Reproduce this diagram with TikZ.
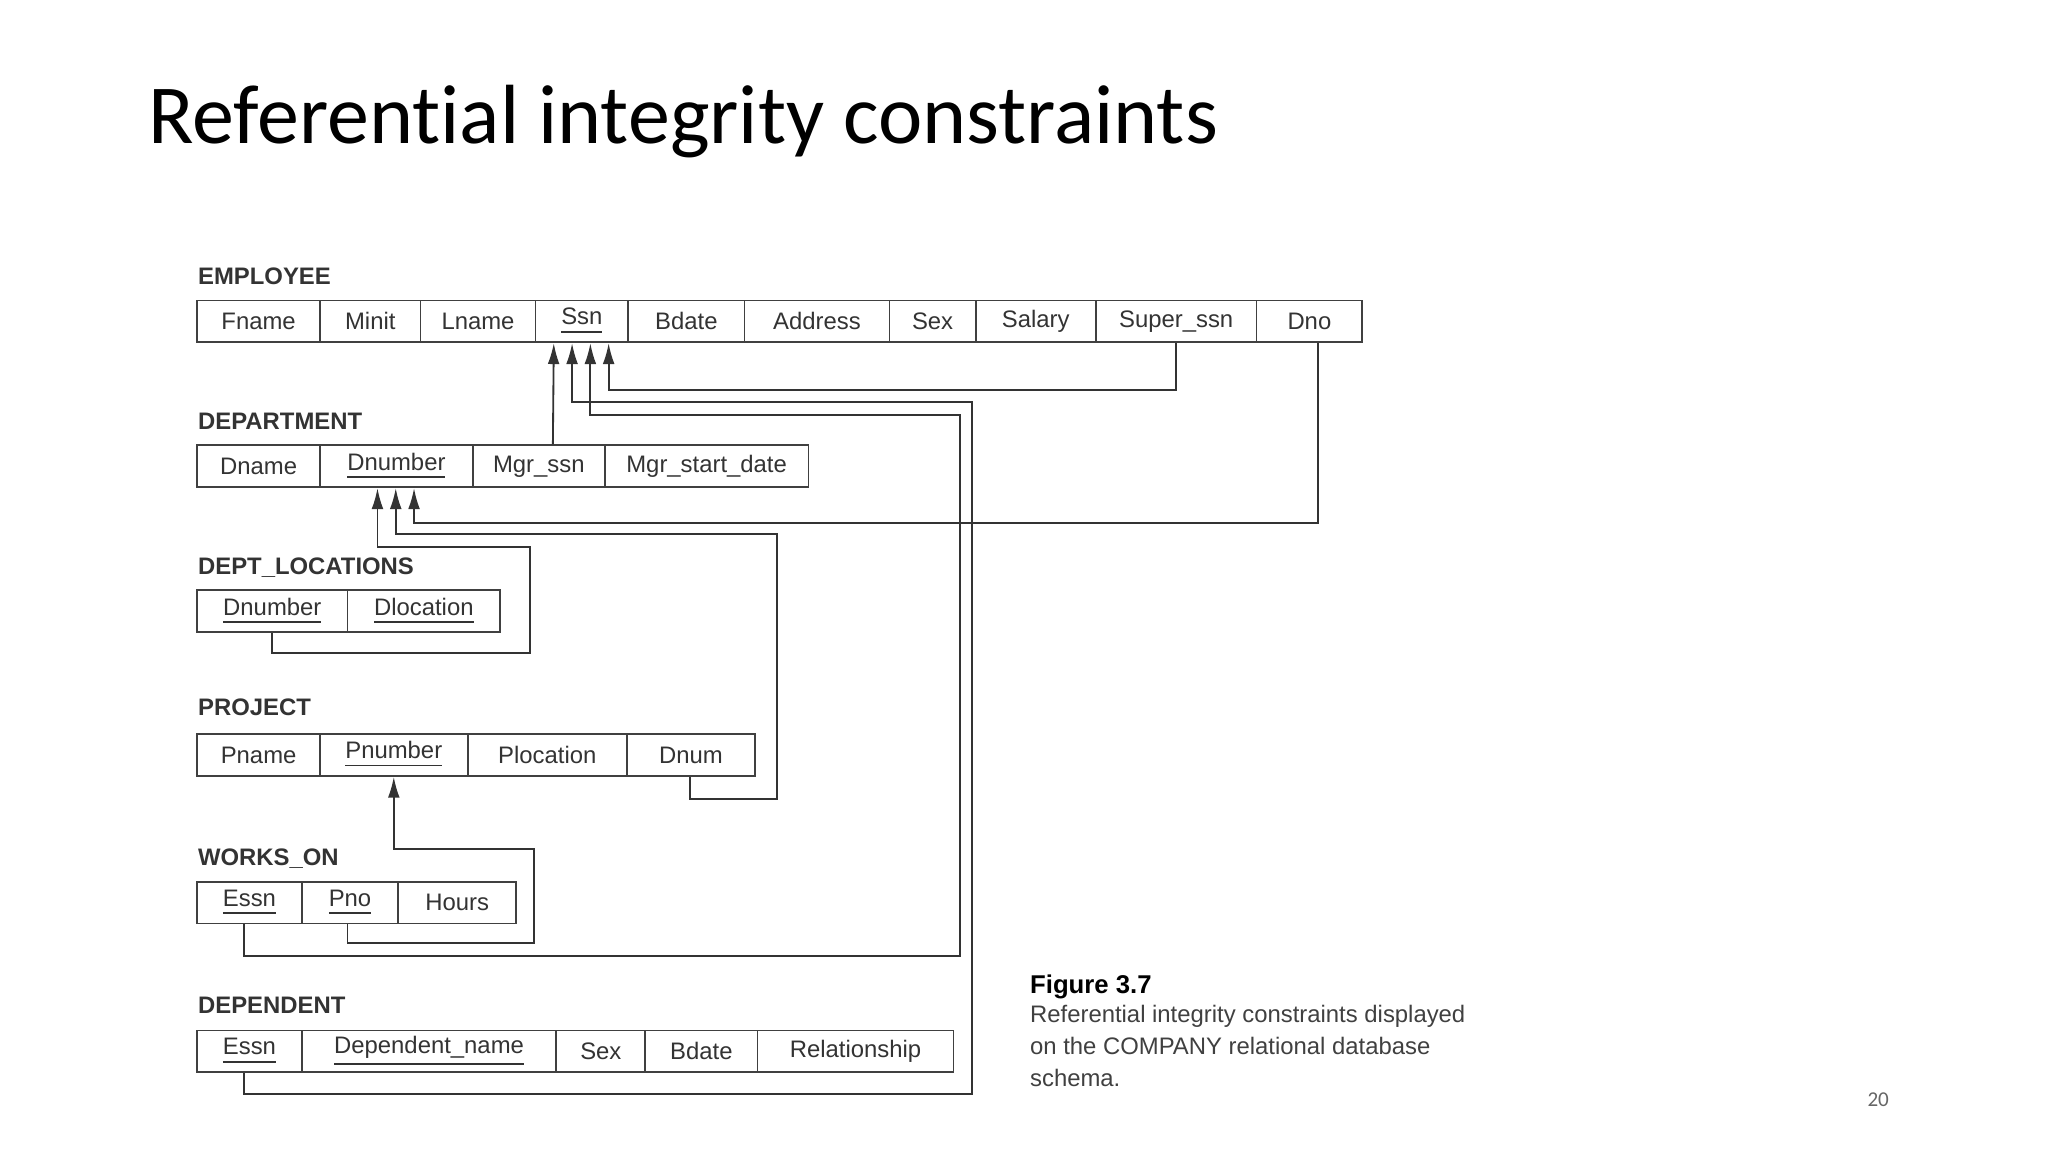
\documentclass[tikz,border=0pt]{standalone}
\usepackage{fontspec}
\setmainfont{Liberation Sans}
\newfontfamily\titlefont[Ligatures=NoCommon]{Carlito}
\usetikzlibrary{positioning, arrows.meta, calc}

\begin{document}
\begin{tikzpicture}[x=0.1mm, y=-0.1mm,
    cell/.style={rectangle, draw=black!75, line width=0.4pt, minimum height=3.2mm, inner sep=0pt, font=\fontsize{5.2}{6}\selectfont, text=black!80},
    relname/.style={anchor=base west, inner sep=0pt, font=\fontsize{5.2}{6}\selectfont\bfseries, text=black!80},
    fk/.style={draw=black!80, line width=0.4pt, -{Latex[length=1.6mm, width=0.9mm]}},
]
\useasboundingbox (0,0) rectangle (1568,882);

% Title
\node[anchor=base west, inner sep=0pt, font=\titlefont\fontsize{18.3}{22}\selectfont] (title) at (113,110) {Referential integrity constraints};

% Relation names
\node[relname] (lblEmp) at (151,218) {EMPLOYEE};
\node[relname] (lblDept) at (151,329) {DEPARTMENT};
\node[relname] (lblLoc) at (151,440) {DEPT\_LOCATIONS};
\node[relname] (lblProj) at (151,548) {PROJECT};
\node[relname] (lblWorks) at (151,663) {WORKS\_ON};
\node[relname] (lblDep) at (151,776) {DEPENDENT};

% Cells
\foreach \n/\a/\b/\t in {Fname/151/245/Fname, Minit/245/322/Minit, Lname/322/410/Lname,
    Ssn/410/481/\underline{Ssn}, Bdate/481/570/Bdate, Address/570/681/Address, Sex/681/747/Sex,
    Salary/747/839/Salary, Super/839/962/Super\_ssn, Dno/962/1043/Dno}
  \node[cell, minimum width={(\b-\a)*0.1mm}] (emp-\n) at ({(\a+\b)/2},246) {\t};
\foreach \n/\a/\b/\t in {Dname/151/245/Dname, Dnumber/245/362/\underline{Dnumber},
    Mgr/362/463/Mgr\_ssn, Start/463/619/Mgr\_start\_date}
  \node[cell, minimum width={(\b-\a)*0.1mm}] (dept-\n) at ({(\a+\b)/2},357) {\t};
\foreach \n/\a/\b/\t in {Dnumber/151/266/\underline{Dnumber}, Dlocation/266/383/\underline{Dlocation}}
  \node[cell, minimum width={(\b-\a)*0.1mm}] (loc-\n) at ({(\a+\b)/2},468) {\t};
\foreach \n/\a/\b/\t in {Pname/151/245/Pname, Pnumber/245/358/\underline{Pnumber},
    Plocation/358/480/Plocation, Dnum/480/578/Dnum}
  \node[cell, minimum width={(\b-\a)*0.1mm}] (proj-\n) at ({(\a+\b)/2},578) {\t};
\foreach \n/\a/\b/\t in {Essn/151/231/\underline{Essn}, Pno/231/305/\underline{Pno}, Hours/305/395/Hours}
  \node[cell, minimum width={(\b-\a)*0.1mm}] (works-\n) at ({(\a+\b)/2},691) {\t};
\foreach \n/\a/\b/\t in {Essn/151/231/\underline{Essn}, Name/231/426/\underline{Dependent\_name},
    Sex/426/494/Sex, Bdate/494/580/Bdate, Rel/580/730/Relationship}
  \node[cell, minimum width={(\b-\a)*0.1mm}] (dep-\n) at ({(\a+\b)/2},805) {\t};

% Foreign keys
\draw[fk] (emp-Super.south) -- ++(0,36) -| ([xshift=2.05mm]emp-Ssn.south);
\draw[fk] (dept-Mgr.north west) ++(6.2mm,0) -- ([xshift=-2.15mm]emp-Ssn.south);
\draw[fk] ([xshift=-0.4mm]works-Essn.south) -- ++(0,24) -| (735,318) -| ([xshift=0.65mm]emp-Ssn.south);
\draw[fk] ([xshift=-0.4mm]dep-Essn.south) -- ++(0,16) -| (744,308) -| ([xshift=-0.75mm]emp-Ssn.south);
\draw[fk] ([xshift=0.65mm]emp-Dno.south) -- ++(0,138) -| ([xshift=1.35mm]dept-Dnumber.south);
\draw[fk] ([xshift=-0.1mm]proj-Dnum.south) -- ++(0,17) -| (595,409) -| ([xshift=-0.05mm]dept-Dnumber.south);
\draw[fk] ([xshift=-0.05mm]loc-Dnumber.south) -- ++(0,15) -| (406,419) -| ([xshift=-1.45mm]dept-Dnumber.south);
\draw[fk] ([xshift=-0.2mm]works-Pno.south) -- ++(0,14) -| (409,650) -| (proj-Pnumber.south);

% Caption
\node[anchor=base west, inner sep=0pt, font=\fontsize{5.6}{6.6}\selectfont\bfseries] (figno) at (788,761) {Figure 3.7};
\node[anchor=north west, inner sep=0pt, align=left, text=black!75, font=\fontsize{5.2}{7}\selectfont] (caption) at (788,769)
  {Referential integrity constraints displayed\\on the COMPANY relational database\\schema.};
\node[anchor=base, inner sep=0pt, text=black!60, font=\titlefont\fontsize{4.6}{5}\selectfont] (page) at (1438,847) {20};
\end{tikzpicture}
\end{document}
